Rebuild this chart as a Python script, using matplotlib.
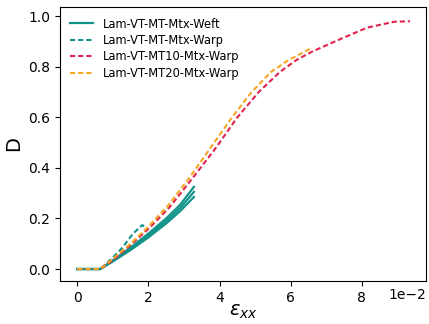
import matplotlib.pyplot as plt

# strain values in units of 1e-2, damage D
weft_x = [0, 0.65, 1.0, 1.5, 2.0, 2.5, 2.9, 3.28]
weft_d1 = [0, 0, 0.03, 0.075, 0.125, 0.18, 0.23, 0.285]
weft_d2 = [0, 0, 0.032, 0.08, 0.132, 0.19, 0.242, 0.305]
weft_d3 = [0, 0, 0.034, 0.085, 0.14, 0.2, 0.255, 0.325]

warp_x = [0, 0.65, 1.0, 1.26, 1.57, 1.83, 1.9]
warp_d = [0, 0, 0.045, 0.083, 0.14, 0.174, 0.166]

mt10_x = [0, 0.65, 1.0, 1.5, 2.05, 2.6, 3.3, 3.9, 4.5, 5.1, 5.7, 6.15, 6.6, 7.4, 8.15, 8.9, 9.35]
mt10_d = [0, 0, 0.035, 0.095, 0.165, 0.245, 0.37, 0.48, 0.6, 0.7, 0.78, 0.826, 0.86, 0.91, 0.955, 0.978, 0.98]

mt20_x = [0, 0.65, 1.0, 1.5, 2.0, 2.55, 3.2, 3.75, 4.35, 4.9, 5.45, 5.93, 6.6]
mt20_d = [0, 0, 0.04, 0.1, 0.168, 0.25, 0.37, 0.48, 0.6, 0.7, 0.78, 0.826, 0.875]

teal = '#12938a'
red = '#e0234e'
orange = '#f5a623'
dash = (2.5, 1.4)

fig = plt.figure(figsize=(4.29, 3.24), dpi=100)
ax = fig.add_axes([0.14, 0.133, 0.853, 0.845])

ax.plot(weft_x, weft_d2, color=teal, lw=1.6, label='Lam-VT-MT-Mtx-Weft')
ax.plot(weft_x, weft_d1, color=teal, lw=1.6)
ax.plot(weft_x, weft_d3, color=teal, lw=1.6)
ax.plot(warp_x, warp_d, color=teal, lw=1.5, ls='--', dashes=dash, label='Lam-VT-MT-Mtx-Warp')
ax.plot(mt10_x, mt10_d, color=red, lw=1.5, ls='--', dashes=dash, label='Lam-VT-MT10-Mtx-Warp')
ax.plot(mt20_x, mt20_d, color=orange, lw=1.5, ls='--', dashes=dash, label='Lam-VT-MT20-Mtx-Warp')

ax.set_xlim(-0.48, 9.8)
ax.set_ylim(-0.047, 1.036)
ax.set_xticks([0, 2, 4, 6, 8])
ax.tick_params(labelsize=10)
ax.text(1.0, -0.05, '1e\u22122', transform=ax.transAxes, ha='right', va='center', fontsize=10)
ax.set_xlabel(r'$\varepsilon_{xx}$', fontsize=14, labelpad=-2)
ax.set_ylabel('D', fontsize=14)
ax.legend(fontsize=8.3, frameon=False, loc='upper left', labelspacing=0.3)

fig.savefig('out.png')
